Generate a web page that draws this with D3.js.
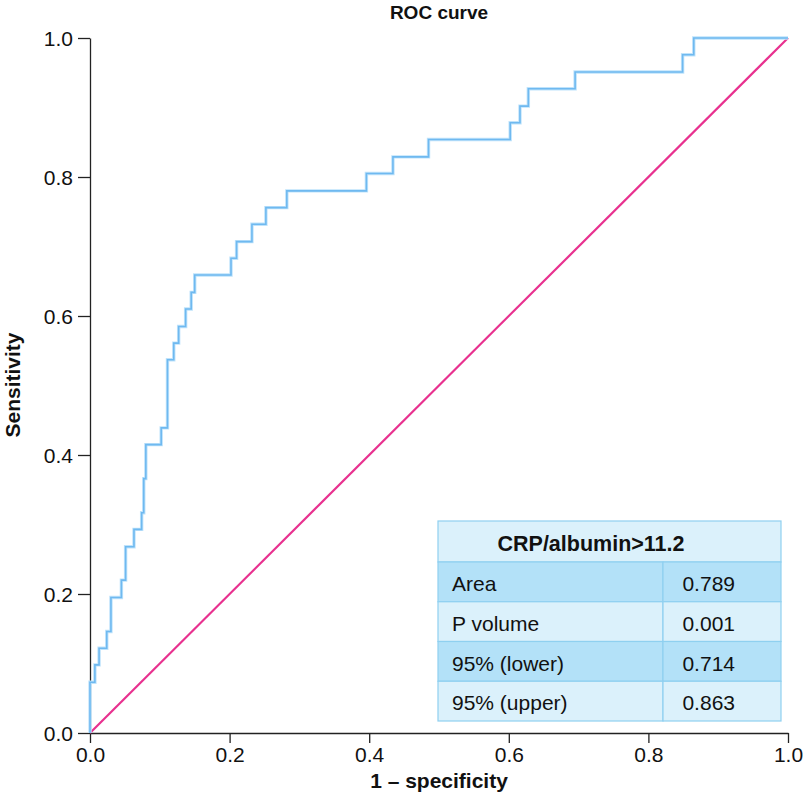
<!DOCTYPE html>
<html>
<head>
<meta charset="utf-8">
<script src="https://cdn.jsdelivr.net/npm/d3@7"></script>
<style>
  html, body { margin: 0; padding: 0; background: #fff; }
  svg { display: block; font-family: "Liberation Sans", Arial, sans-serif; }
</style>
</head>
<body>
<svg id="chart" width="803" height="805"></svg>
<script>
// ROC step curve (1 - specificity, sensitivity) vertices
const fpr  = [0.000, 0.000, 0.007, 0.007, 0.013, 0.013, 0.024, 0.024, 0.030, 0.030, 0.045, 0.045, 0.051, 0.051, 0.063, 0.063, 0.074, 0.074, 0.077, 0.077, 0.080, 0.080, 0.102, 0.102, 0.111, 0.111, 0.120, 0.120, 0.127, 0.127, 0.137, 0.137, 0.145, 0.145, 0.150, 0.150, 0.202, 0.202, 0.210, 0.210, 0.232, 0.232, 0.252, 0.252, 0.282, 0.282, 0.396, 0.396, 0.434, 0.434, 0.485, 0.485, 0.602, 0.602, 0.616, 0.616, 0.628, 0.628, 0.695, 0.695, 0.849, 0.849, 0.865, 0.865, 1.000];
const sens = [0.000, 0.073, 0.073, 0.098, 0.098, 0.122, 0.122, 0.146, 0.146, 0.195, 0.195, 0.220, 0.220, 0.268, 0.268, 0.293, 0.293, 0.317, 0.317, 0.366, 0.366, 0.415, 0.415, 0.439, 0.439, 0.537, 0.537, 0.561, 0.561, 0.585, 0.585, 0.610, 0.610, 0.634, 0.634, 0.659, 0.659, 0.683, 0.683, 0.707, 0.707, 0.732, 0.732, 0.756, 0.756, 0.780, 0.780, 0.805, 0.805, 0.829, 0.829, 0.854, 0.854, 0.878, 0.878, 0.902, 0.902, 0.927, 0.927, 0.951, 0.951, 0.976, 0.976, 1.000, 1.000];
const refX = [0, 1];
const refY = [0, 1];
const xTicks = [0, 0.2, 0.4, 0.6, 0.8, 1.0];
const yTicks = [0, 0.2, 0.4, 0.6, 0.8, 1.0];
const tableTitle = "CRP/albumin>11.2";
const tableLabels = ["Area", "P volume", "95% (lower)", "95% (upper)"];
const tableValues = ["0.789", "0.001", "0.714", "0.863"];

const svg = d3.select("#chart");
const x = d3.scaleLinear().domain([0, 1]).range([90, 788]);
const y = d3.scaleLinear().domain([0, 1]).range([733, 38]);

// axes
const xAxis = d3.axisBottom(x).tickValues(xTicks).tickFormat(d3.format(".1f")).tickSize(10).tickSizeOuter(0);
const gx = svg.append("g").attr("transform", "translate(0,733)").call(xAxis);
gx.attr("font-family", null).attr("font-size", null);
gx.select(".domain").attr("stroke", "#222").attr("stroke-width", 1.3);
gx.selectAll(".tick line").attr("stroke", "#222").attr("stroke-width", 1.3);
gx.selectAll(".tick text").attr("y", 0).attr("dy", "29px")
  .attr("font-size", 21).attr("fill", "#111");

const yAxis = d3.axisLeft(y).tickValues(yTicks).tickFormat(d3.format(".1f")).tickSize(12).tickSizeOuter(0);
const gy = svg.append("g").attr("transform", "translate(90,0)").call(yAxis);
gy.attr("font-family", null).attr("font-size", null);
gy.select(".domain").attr("stroke", "#222").attr("stroke-width", 1.3);
gy.selectAll(".tick line").attr("stroke", "#222").attr("stroke-width", 1.3);
gy.selectAll(".tick text").attr("x", -17).attr("dy", "0.36em")
  .attr("font-size", 21).attr("fill", "#111");

// reference diagonal
svg.append("path")
  .datum(refX.map((v, i) => [v, refY[i]]))
  .attr("d", d3.line().x(d => x(d[0])).y(d => y(d[1])))
  .attr("fill", "none").attr("stroke", "#e8318f").attr("stroke-width", 2.2);

// ROC curve (halo + core)
const rocPts = fpr.map((v, i) => [v, sens[i]]);
const rocLine = d3.line().x(d => x(d[0])).y(d => y(d[1]));
svg.append("path").datum(rocPts).attr("d", rocLine)
  .attr("fill", "none").attr("stroke", "#bfe3fb").attr("stroke-width", 3.4);
svg.append("path").datum(rocPts).attr("d", rocLine)
  .attr("fill", "none").attr("stroke", "#6fb9f0").attr("stroke-width", 1.6);

// title and axis labels
svg.append("text").attr("x", 439).attr("y", 19).attr("text-anchor", "middle")
  .attr("font-size", 19).attr("font-weight", "bold").attr("fill", "#111").text("ROC curve");
svg.append("text").attr("x", 439).attr("y", 788).attr("text-anchor", "middle")
  .attr("font-size", 21).attr("font-weight", "bold").attr("fill", "#111")
  .text("1 – specificity");
svg.append("text").attr("transform", "translate(20,385) rotate(-90)").attr("text-anchor", "middle")
  .attr("font-size", 21).attr("font-weight", "bold").attr("fill", "#111").text("Sensitivity");

// table
const tX0 = 438, tX1 = 781, tColX = 663, tY0 = 521, headH = 41, rowH = 39.75;
const tbl = svg.append("g");
tbl.append("rect").attr("x", tX0).attr("y", tY0).attr("width", tX1 - tX0).attr("height", headH)
  .attr("fill", "#dbf1fb").attr("stroke", "#8fd0f0").attr("stroke-width", 1.2);
tbl.append("text").attr("x", 591).attr("y", tY0 + 30).attr("text-anchor", "middle")
  .attr("font-size", 21.5).attr("font-weight", "bold").attr("fill", "#111").text(tableTitle);
tableLabels.forEach((lab, i) => {
  const ry = tY0 + headH + i * rowH;
  const fill = i % 2 === 0 ? "#b3e1f8" : "#dbf1fb";
  tbl.append("rect").attr("x", tX0).attr("y", ry).attr("width", tColX - tX0).attr("height", rowH)
    .attr("fill", fill).attr("stroke", "#8fd0f0").attr("stroke-width", 1.2);
  tbl.append("rect").attr("x", tColX).attr("y", ry).attr("width", tX1 - tColX).attr("height", rowH)
    .attr("fill", fill).attr("stroke", "#8fd0f0").attr("stroke-width", 1.2);
  tbl.append("text").attr("x", 452).attr("y", ry + 29).attr("font-size", 21).attr("fill", "#111").text(lab);
  tbl.append("text").attr("x", 735).attr("y", ry + 29).attr("text-anchor", "end")
    .attr("font-size", 21).attr("fill", "#111").text(tableValues[i]);
});
</script>
</body>
</html>
